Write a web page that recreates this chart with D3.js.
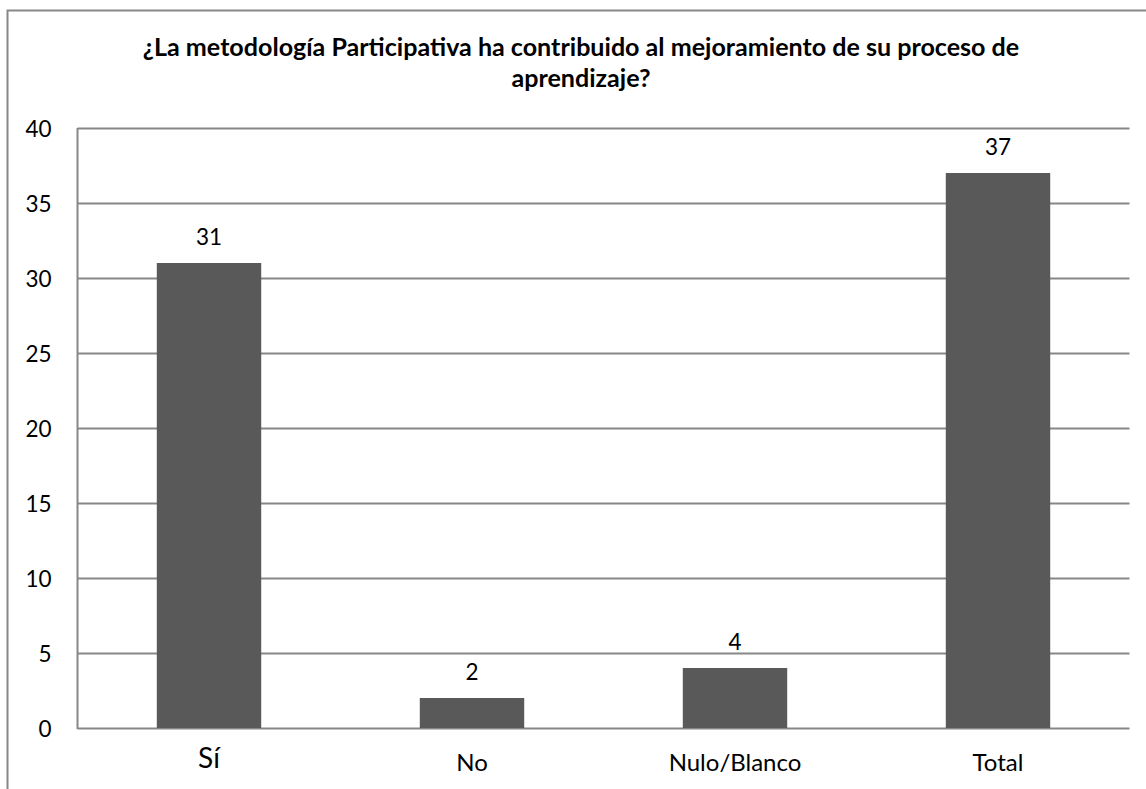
<!DOCTYPE html>
<html>
<head>
<meta charset="utf-8">
<script src="https://cdn.jsdelivr.net/npm/d3@7"></script>
<style>
  html, body { margin: 0; padding: 0; background: #fff; overflow: hidden; }
  svg { display: block; }
  text { font-family: Lato, "Noto Sans", sans-serif; fill: #000; }
</style>
</head>
<body>
<svg id="chart" width="1146" height="789"></svg>
<script>
const titleLines = ["¿La metodología Participativa ha contribuido al mejoramiento de su proceso de", "aprendizaje?"];
const categories = ["Sí", "No", "Nulo/Blanco", "Total"];
const values = [31, 2, 4, 37];
const yTicks = [0, 5, 10, 15, 20, 25, 30, 35, 40];

const svg = d3.select("#chart");
const gridColor = "#878787";
const barColor = "#595959";

const plot = { left: 77.5, right: 1129.5, top: 128, bottom: 728 };

// outer frame (extends beyond the visible picture on the right and bottom)
svg.append("rect")
  .attr("x", 7.5).attr("y", 10.5)
  .attr("width", 1170).attr("height", 820)
  .attr("fill", "none").attr("stroke", gridColor).attr("stroke-width", 2);

const x = d3.scaleBand().domain(categories).range([plot.left, plot.right]).padding(0);
const y = d3.scaleLinear().domain([0, 40]).range([plot.bottom, plot.top]);
const barW = x.bandwidth() * 0.397;

// gridlines
svg.append("g").selectAll("line").data(yTicks).join("line")
  .attr("x1", plot.left).attr("x2", plot.right)
  .attr("y1", d => Math.round(y(d)) + 0.5).attr("y2", d => Math.round(y(d)) + 0.5)
  .attr("stroke", gridColor).attr("stroke-width", 2);

// y axis line
svg.append("line")
  .attr("x1", plot.left).attr("x2", plot.left)
  .attr("y1", plot.top).attr("y2", plot.bottom + 1)
  .attr("stroke", gridColor).attr("stroke-width", 2);

// y axis labels via d3 axis
const yAxis = d3.axisLeft(y).tickValues(yTicks).tickSize(0).tickPadding(26);
const gy = svg.append("g").attr("transform", `translate(${plot.left},0)`).call(yAxis);
gy.select(".domain").remove();
gy.selectAll("text")
  .attr("font-family", "Lato, sans-serif")
  .attr("font-size", 22.5)
  .attr("fill", "#000")
  .attr("dy", "0.36em");

// bars
svg.append("g").selectAll("rect").data(values).join("rect")
  .attr("x", (d, i) => x(categories[i]) + (x.bandwidth() - barW) / 2)
  .attr("y", d => y(d))
  .attr("width", barW)
  .attr("height", d => y(0) - y(d))
  .attr("fill", barColor);

// value labels
svg.append("g").selectAll("text").data(values).join("text")
  .attr("x", (d, i) => x(categories[i]) + x.bandwidth() / 2)
  .attr("y", d => y(d) - 18)
  .attr("text-anchor", "middle")
  .attr("font-size", 22.5)
  .text(d => d);

// category labels
svg.append("g").selectAll("text").data(categories).join("text")
  .attr("x", d => x(d) + x.bandwidth() / 2)
  .attr("y", (d, i) => i === 0 ? 768 : 771)
  .attr("text-anchor", "middle")
  .attr("font-family", (d, i) => i === 0 ? "'Liberation Sans', Arial, sans-serif" : "Lato, sans-serif")
  .attr("font-size", (d, i) => i === 0 ? 28 : 24)
  .text(d => d);

// title
const titleX = 581;
const t1 = svg.append("text")
  .attr("x", titleX).attr("y", 56)
  .attr("text-anchor", "middle")
  .attr("font-weight", "bold")
  .attr("font-size", 24)
  .text(titleLines[0]);
const w = t1.node().getComputedTextLength();
const fs = 24 * 877 / w;
t1.attr("font-size", fs);
svg.append("text")
  .attr("x", titleX).attr("y", 87)
  .attr("text-anchor", "middle")
  .attr("font-weight", "bold")
  .attr("font-size", fs)
  .text(titleLines[1]);
</script>
</body>
</html>
